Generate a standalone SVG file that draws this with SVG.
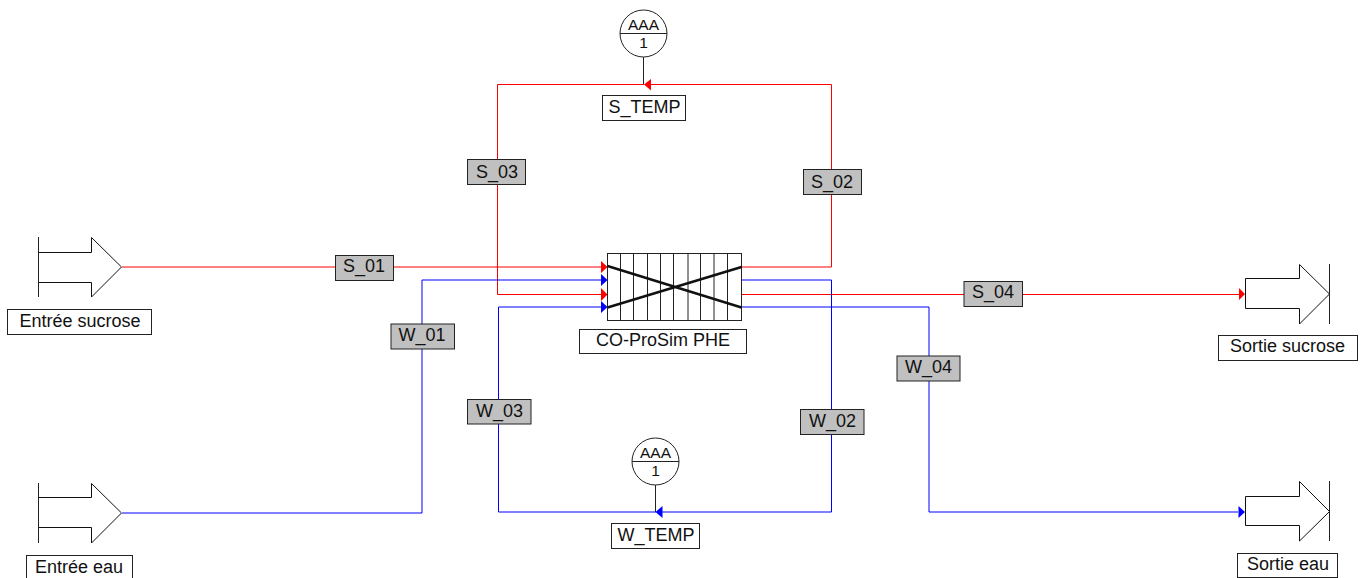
<svg xmlns="http://www.w3.org/2000/svg" width="1364" height="578" viewBox="0 0 1364 578">
<style>
text{font-family:"Liberation Sans",Arial,sans-serif;font-size:18px;fill:#111;text-anchor:middle}
.sm{font-size:15.5px}
.lb{fill:#fff;stroke:#222;stroke-width:1}
.tg{fill:#c0c0c0;stroke:#222;stroke-width:1}
.sh{fill:#fff;stroke:#111;stroke-width:1}
.r{fill:none;stroke:#f00;stroke-width:1}
.b{fill:none;stroke:#00f;stroke-width:1}
.k{fill:none;stroke:#222;stroke-width:1}
.hr{fill:#f00}.hb{fill:#00f}
</style>
<rect width="1364" height="578" fill="#fff"/>
<g id="connectors">
<path class="r" d="M122 267H602"/>
<path class="r" d="M741 267H831.500V84.500H651"/>
<path class="r" d="M644 84.500H497.500V294.500H602"/>
<path class="r" d="M741 294.500H1239"/>
<path class="b" d="M122 513H422V280H602"/>
<path class="b" d="M741 280H831.500V512H662"/>
<path class="b" d="M656 512H498.500V307H602"/>
<path class="b" d="M741 307H929V512H1238"/>
<path class="k" d="M643.500 57V84M655.500 485V512"/>
<path class="hr" d="M601 261L607.500 267L601 273ZM601 288L607.500 294.500L601 301ZM1245 294L1239 288V300ZM644 84.500L651 79V90.500Z"/>
<path class="hb" d="M601 274L607.500 280L601 286ZM601 301L607.500 307L601 313ZM1245 512L1238.500 506V518ZM655.500 512L662.500 506V518Z"/>
</g>
<g id="entree-sucrose">
<path class="sh" d="M38.500 252.500H91.500V237.500L121.500 267L91.500 297V282.500H38.500Z"/>
<path class="k" d="M38.500 237V297"/>
<rect class="lb" x="7.500" y="309.500" width="144" height="25"/>
<text x="80" y="327">Entrée sucrose</text>
</g>
<g id="entree-eau">
<path class="sh" d="M38.500 497.500H91.500V483.500L121.500 513L91.500 543V527.500H38.500Z"/>
<path class="k" d="M38.500 483V543"/>
<rect class="lb" x="26.500" y="555.500" width="106" height="25"/>
<text x="79" y="573">Entrée eau</text>
</g>
<g id="sortie-sucrose">
<path class="sh" d="M1245.500 278.500H1299.500V264.500L1329.500 294L1299.500 324V308.500H1245.500Z"/>
<path class="k" d="M1329.500 264V324"/>
<rect class="lb" x="1218.500" y="335.500" width="139" height="25"/>
<text x="1287.500" y="352">Sortie sucrose</text>
</g>
<g id="sortie-eau">
<path class="sh" d="M1245.500 496.500H1299.500V481.500L1329.500 511.500L1299.500 541V525.500H1245.500Z"/>
<path class="k" d="M1329.500 481V541"/>
<rect class="lb" x="1237.500" y="553.500" width="100" height="24"/>
<text x="1288" y="570">Sortie eau</text>
</g>
<g id="phe">
<rect x="607.500" y="253.500" width="134" height="67" fill="#fff" stroke="#222"/>
<path class="k" d="M620.500 253.500V320.500M633.500 253.500V320.500M647.500 253.500V320.500M660.500 253.500V320.500M673.500 253.500V320.500M688 253.500V320.500M700.500 253.500V320.500M714 253.500V320.500M727.500 253.500V320.500"/>
<path fill="none" stroke="#111" stroke-width="2.500" d="M607.500 266L741.500 307.500M607.500 307.500L741.500 267"/>
<rect class="lb" x="579.500" y="329.500" width="167" height="24"/>
<text x="663" y="346">CO-ProSim PHE</text>
</g>
<g id="s-temp">
<circle cx="643.500" cy="33.500" r="23.500" fill="#fff" stroke="#222"/>
<path class="k" d="M620 33.500H667"/>
<text class="sm" x="643.500" y="30">AAA</text>
<text class="sm" x="643.500" y="48">1</text>
<rect class="lb" x="602.500" y="95.500" width="83" height="25"/>
<text x="644.500" y="113">S_TEMP</text>
</g>
<g id="w-temp">
<circle cx="655.500" cy="461.500" r="23.500" fill="#fff" stroke="#222"/>
<path class="k" d="M632 461.500H679"/>
<text class="sm" x="655.500" y="458">AAA</text>
<text class="sm" x="655.500" y="476">1</text>
<rect class="lb" x="611.500" y="523.500" width="88" height="25"/>
<text x="656" y="541">W_TEMP</text>
</g>
<g id="s01"><rect class="tg" x="335.500" y="255.500" width="58" height="25"/><text x="364" y="272">S_01</text></g>
<g id="s02"><rect class="tg" x="803.500" y="169.500" width="58" height="25"/><text x="832" y="188">S_02</text></g>
<g id="s03"><rect class="tg" x="467.500" y="159.500" width="58" height="25"/><text x="497" y="178">S_03</text></g>
<g id="s04"><rect class="tg" x="964" y="281.500" width="58.500" height="25"/><text x="993" y="298">S_04</text></g>
<g id="w01"><rect class="tg" x="391" y="324" width="63.500" height="25"/><text x="422" y="341">W_01</text></g>
<g id="w02"><rect class="tg" x="800.500" y="409.500" width="63.500" height="25"/><text x="832.500" y="427">W_02</text></g>
<g id="w03"><rect class="tg" x="467.500" y="399.500" width="63.500" height="24.500"/><text x="499.500" y="416.500">W_03</text></g>
<g id="w04"><rect class="tg" x="897" y="356" width="63" height="25"/><text x="928.500" y="373">W_04</text></g>
</svg>
